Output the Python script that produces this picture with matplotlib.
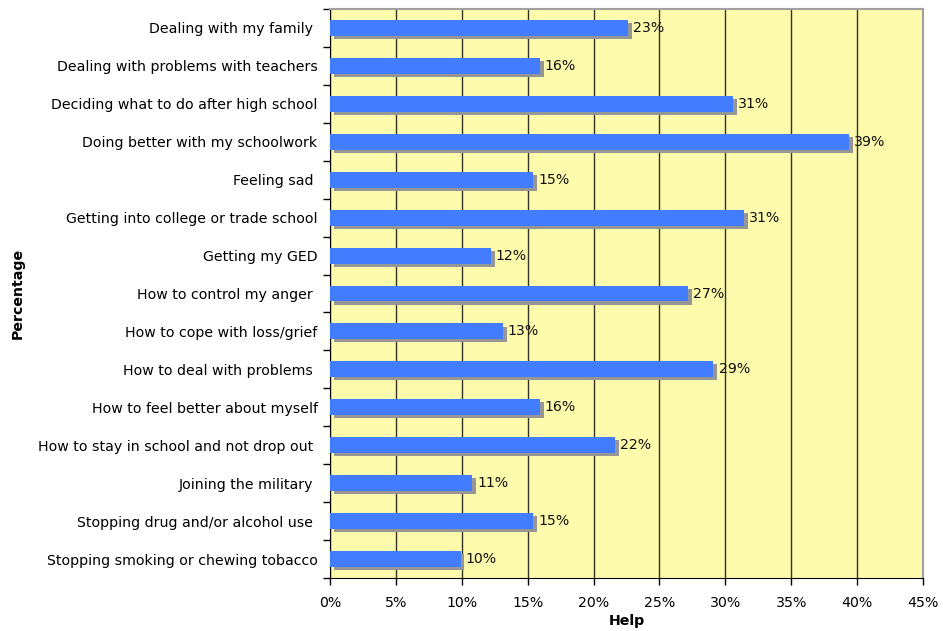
import matplotlib
matplotlib.use("Agg")
import matplotlib.pyplot as plt
import numpy as np

categories = [
    "Dealing with my family ",
    "Dealing with problems with teachers",
    "Deciding what to do after high school",
    "Doing better with my schoolwork",
    "Feeling sad ",
    "Getting into college or trade school",
    "Getting my GED",
    "How to control my anger ",
    "How to cope with loss/grief",
    "How to deal with problems ",
    "How to feel better about myself",
    "How to stay in school and not drop out ",
    "Joining the military ",
    "Stopping drug and/or alcohol use ",
    "Stopping smoking or chewing tobacco",
]
values = [22.6, 15.9, 30.6, 39.4, 15.4, 31.4, 12.2, 27.2, 13.1, 29.1,
          15.9, 21.6, 10.8, 15.4, 9.9]
xticks = list(range(0, 50, 5))

BLUE = "#427DFF"
SHADOW = "#969696"
YELLOW = "#FFFBAD"
FS = 10.2

plt.rcParams["font.family"] = "DejaVu Sans"
fig = plt.figure(figsize=(9.43, 6.31), dpi=100)
ax = fig.add_axes([0.35, 0.084, 0.6288, 0.9017])
ax.set_facecolor(YELLOW)

n = len(categories)
y = np.arange(n)
h = 0.42
# shadow offset (about 4px right, 3px down)
dx, dy = 0.3, 0.08
ax.barh(y + dy, values, height=h, left=dx, color=SHADOW, zorder=2)
ax.barh(y, values, height=h, color=BLUE, zorder=3)
for yi, v in zip(y, values):
    ax.text(v + dx + 0.08, yi, f"{v:.0f}%", va="center", ha="left",
            fontsize=FS, color="#111111", zorder=4)

ax.set_xlim(0, 45)
ax.set_ylim(n - 0.5, -0.5)
ax.set_xticks(xticks)
ax.set_xticklabels([f"{t}%" for t in xticks], fontsize=FS)
ax.set_yticks(y)
ax.set_yticklabels(categories, fontsize=FS)
ax.set_yticks(np.arange(-0.5, n, 1), minor=True)
ax.tick_params(axis="y", which="major", length=0, pad=9)
ax.tick_params(axis="y", which="minor", length=5, width=1, direction="out")
ax.tick_params(axis="x", length=5, width=1, direction="out", pad=8)

ax.xaxis.grid(True, color="#333322", lw=1, zorder=1)
ax.set_axisbelow(True)
for s in ["top", "right"]:
    ax.spines[s].set_color("#A0A0A0")
    ax.spines[s].set_linewidth(1.5)
ax.spines["left"].set_color("black")
ax.spines["bottom"].set_color("black")

ax.set_xlabel("Help", fontsize=FS, fontweight="bold", labelpad=3)
ax.set_ylabel("Percentage", fontsize=FS, fontweight="bold")
ax.yaxis.set_label_coords(-0.515, 0.5)

fig.savefig("out.png", dpi=100, facecolor="white")
